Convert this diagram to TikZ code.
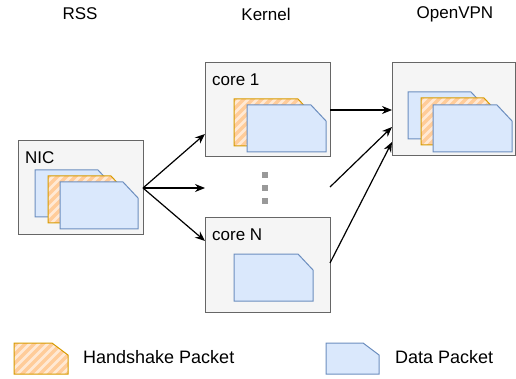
\documentclass[tikz,border=0pt]{standalone}
\usepackage{fontspec}
\setmainfont{Liberation Sans}
\usetikzlibrary{arrows.meta}
\definecolor{boxfill}{HTML}{F5F5F5}
\definecolor{boxline}{HTML}{666666}
\definecolor{dfill}{HTML}{DAE8FC}
\definecolor{dline}{HTML}{6C8EBF}
\definecolor{hfill}{HTML}{FFE9D4}
\definecolor{hstripe}{HTML}{FFCC99}
\definecolor{hline}{HTML}{D79B00}
\definecolor{dotgray}{HTML}{999999}
% packet outline: x y w h cx cy
\newcommand\pktpath[6]{(#1,#2) -- ({#1+#3-#5},#2) -- ({#1+#3},{#2+#6}) -- ({#1+#3},{#2+#4}) -- (#1,{#2+#4}) -- cycle}
\newcommand\datapkt[6]{\draw[dline, fill=dfill, line width=1pt] \pktpath{#1}{#2}{#3}{#4}{#5}{#6};}
\newcommand\hspkt[6]{%
  \begin{scope}
    \fill[hfill] \pktpath{#1}{#2}{#3}{#4}{#5}{#6};
    \clip \pktpath{#1}{#2}{#3}{#4}{#5}{#6};
    \foreach \k in {-60,-51,...,100}{
      \draw[hstripe, line width=3.5pt] ({#1+\k},{#2+#4+5}) -- ({#1+\k+#4+10},{#2-5});
    }
  \end{scope}
  \draw[hline, line width=1pt] \pktpath{#1}{#2}{#3}{#4}{#5}{#6};}
\tikzset{
  box/.style={draw=boxline, fill=boxfill, line width=1pt, inner sep=0pt, outer sep=0pt, anchor=north west},
  lbl/.style={font=\fontsize{17}{20}\selectfont, inner sep=0pt},
  arr/.style={line width=1.2pt, -{Stealth[length=10pt,width=8pt]}}
}
\begin{document}
\begin{tikzpicture}[x=1pt,y=-1pt]
\useasboundingbox (0,0) rectangle (516,379);
% headers
\node[lbl] (hrss) at (80,14) {RSS};
\node[lbl] (hkern) at (266,14) {Kernel};
\node[lbl] (hvpn) at (455,14) {OpenVPN};
% boxes
\node[box, minimum width=125pt, minimum height=93pt] (nic) at (18,141) {};
\node[box, minimum width=125pt, minimum height=94pt] (core1) at (205,63) {};
\node[box, minimum width=125pt, minimum height=94pt] (coreN) at (205,218) {};
\node[box, minimum width=123pt, minimum height=93pt] (vpn) at (392,63) {};
\node[lbl, anchor=west] (nicl) at (25,157.5) {NIC};
\node[lbl, anchor=west] (c1l) at (212,80) {core 1};
\node[lbl, anchor=west] (cNl) at (212,235) {core N};
% packets
\datapkt{35}{170}{78}{47}{15}{16}
\hspkt{48}{176}{78}{47}{15}{16}
\datapkt{60}{182}{78}{47}{15}{16}
\hspkt{234}{99}{79}{47}{15}{16}
\datapkt{247}{105}{79}{47}{15}{16}
\datapkt{234}{254}{79}{47}{15}{16}
\datapkt{408}{92}{78}{47}{15}{16}
\hspkt{421}{98}{78}{47}{15}{16}
\datapkt{433}{105}{79}{47}{15}{16}
% dots
\draw[dotgray, line width=6pt, dash pattern=on 6pt off 7pt] (265,172) -- (265,204);
% connectors
\coordinate (nicout) at (143,188);
\coordinate (c1in) at (205,134);
\coordinate (midin) at (205,188);
\coordinate (cNin) at (205,241);
\coordinate (c1out) at (330,110);
\coordinate (midout) at (330,187);
\coordinate (cNout) at (330,263);
\coordinate (vpn1) at (392,110);
\coordinate (vpn2) at (392,127);
\coordinate (vpn3) at (392,142);
\draw[arr] (nicout) -- (c1in);
\draw[arr] (nicout) -- (midin);
\draw[arr] (nicout) -- (cNin);
\draw[arr] (c1out) -- (vpn1);
\draw[arr] (midout) -- (vpn2);
\draw[arr] (cNout) -- (vpn3);
% legend
\hspkt{14}{343}{54}{31}{16}{12}
\node[lbl, anchor=west, font=\fontsize{18}{21}\selectfont] (lhs) at (83,357.5) {Handshake Packet};
\datapkt{326}{343}{53}{31}{16}{12}
\node[lbl, anchor=west, font=\fontsize{18}{21}\selectfont] (ldp) at (395,357.5) {Data Packet};
\end{tikzpicture}
\end{document}
